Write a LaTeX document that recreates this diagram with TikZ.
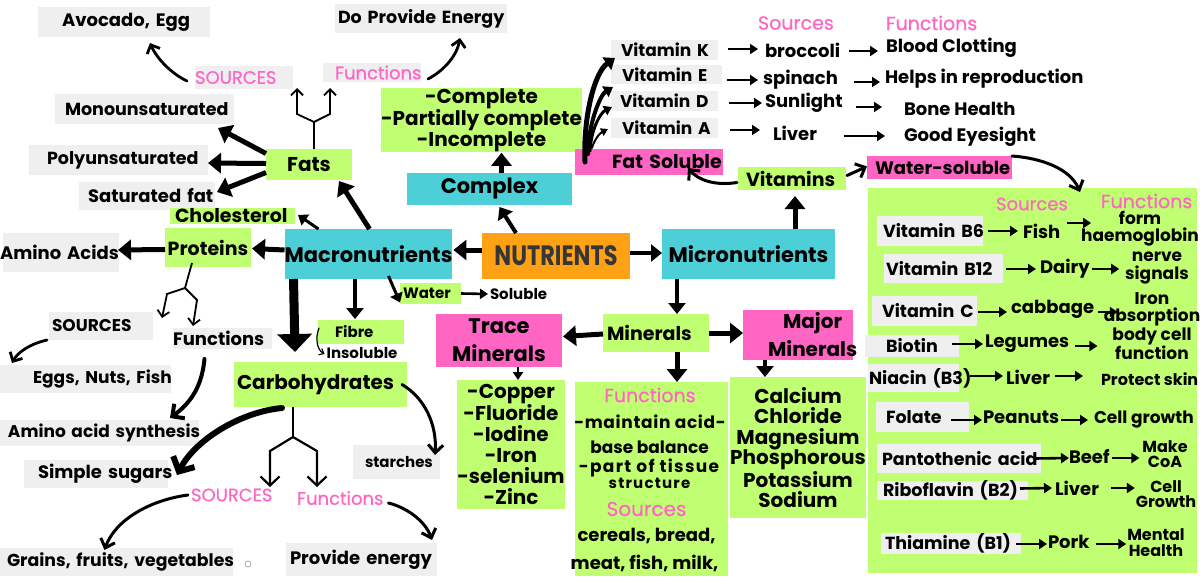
\documentclass[tikz,border=0pt]{standalone}
\usepackage{fontspec}
\usepackage{graphicx}
\setmainfont{Poppins}
\usetikzlibrary{arrows.meta,calc}
\definecolor{lgreen}{HTML}{C1FF72}
\definecolor{pinkc}{HTML}{FF66C4}
\definecolor{cyanc}{HTML}{4DCFD8}
\definecolor{orangec}{HTML}{FFA114}
\definecolor{grayc}{HTML}{EFEFEF}
\definecolor{nutc}{HTML}{363636}
\newcommand\fb[1]{\fontsize{#1}{#1}\selectfont\bfseries}
\newcommand\fr[1]{\fontsize{#1}{#1}\selectfont\mdseries\addfontfeature{FakeBold=0.5}}
\newcommand\fbl[2]{\fontsize{#1}{#2}\selectfont\bfseries}
\newcommand\tx[2]{\hspace*{#1pt}\mbox{#2}}
\tikzset{
 box/.style={inner sep=0pt, outer sep=0pt},
 gbox/.style={box, fill=grayc},
 grbox/.style={box, fill=lgreen},
 cybox/.style={box, fill=cyanc},
 pkbox/.style={box, fill=pinkc},
 orbox/.style={box, fill=orangec},
 txt/.style={inner sep=0pt, outer sep=0pt},
 bx/.style 2 args={minimum width=#1pt, minimum height=#2pt},
 tl/.style 2 args={text width=#1pt, minimum height=#2pt, align=left},
 A9/.style={line width=9pt, -{Triangle[length=18pt,width=34pt]}},
 A5/.style={line width=5pt, -{Triangle[length=13pt,width=20pt]}},
 A4/.style={line width=4pt, -{Triangle[length=11pt,width=17pt]}},
 A3/.style={line width=3pt, -{Triangle[length=9pt,width=13pt]}},
 A25/.style={line width=2.6pt, -{Triangle[length=8pt,width=10pt]}},
 B6/.style={line width=6pt, line cap=round, -{Straight Barb[length=11pt,width=24pt]}},
 B4/.style={line width=4pt, line cap=round, -{Straight Barb[length=9pt,width=18pt]}},
 B3/.style={line width=3pt, line cap=round, -{Straight Barb[length=8pt,width=15pt]}},
 B2/.style={line width=2.8pt, line cap=round, -{Straight Barb[length=7pt,width=14pt]}},
 B1/.style={line width=1.2pt, line cap=round, -{Straight Barb[length=4pt,width=7pt]}},
 fork/.style={line width=1.8pt},
 forka/.style={line width=1.8pt, -{Straight Barb[length=6pt,width=12pt]}},
 forkb/.style={line width=2.2pt, -{Straight Barb[length=9pt,width=19pt]}},
 K5/.style={line width=5pt, line cap=round, -{Triangle[length=10pt,width=15pt]}},
 K4/.style={line width=4pt, line cap=round, -{Triangle[length=9pt,width=12pt]}},
 K3/.style={line width=3pt, line cap=round, -{Triangle[length=8pt,width=10pt]}},
 K2/.style={line width=2pt, line cap=round, -{Triangle[length=7pt,width=8pt]}},
}
\begin{document}
\begin{tikzpicture}[x=1pt,y=-1pt]
\useasboundingbox (0,0) rectangle (1200,576);
\fill[white] (0,0) rectangle (1200,576);

% ---------- left / fats ----------
\node[gbox, tl={172}{30}, font=\fb{18}] (avocado) at (124,22) {\tx{24}{Avocado, Egg}};
\node[gbox, tl={98}{23}, font=\fr{18}, text=pinkc] (fsources) at (244,77.5) {\tx{0}{SOURCES}};
\node[gbox, tl={179}{30}, font=\fb{17.5}] (mono) at (144.5,109) {\tx{10}{Monounsaturated}};
\node[gbox, tl={179}{30}, font=\fb{17.5}] (poly) at (118.5,160) {\tx{18}{Polyunsaturated}};
\node[gbox, tl={136}{28}, font=\fb{18}] (sat) at (147,196) {\tx{9}{Saturated fat}};
\node[grbox, bx={86}{31}, font=\fb{20}] (fats) at (309,164.5) {Fats};
\node[gbox, tl={98}{19}, font=\fr{18}, text=pinkc] (ffunc) at (372,72.5) {\tx{12}{Functions}};
\node[gbox, tl={172}{29}, font=\fb{17.5}] (energy) at (421,18.5) {\tx{3}{Do Provide Energy}};

% ---------- centre ----------
\node[grbox, bx={195}{60}, align=center, font=\fbl{20}{20}] (complete) at (481.5,120) {-Complete\\-Partially complete\\-Incomplete};
\node[cybox, bx={165}{32}, font=\fb{21}] (complex) at (489.5,189) {Complex};
\node[orbox, bx={148}{46}, font=\fb{28}, text=nutc] (nutrients) at (556,256) {\scalebox{0.8}[1]{NUTRIENTS}};
\node[cybox, bx={165}{50}, font=\fb{21}] (macro) at (368.5,254) {Macronutrients};
\node[cybox, bx={173}{50}, font=\fb{21}] (micro) at (748.5,254) {Micronutrients};
\node[grbox, tl={125}{16}, font=\fb{19}] (chol) at (232.5,216) {\tx{5}{Cholesterol}};
\node[grbox, bx={86}{39}, font=\fb{19}] (proteins) at (208,247.5) {Proteins};
\node[gbox, tl={116}{39}, font=\fb{18}] (amino) at (61,252.5) {\tx{-3}{Amino Acids}};

% ---------- proteins ----------
\node[gbox, tl={104}{28}, font=\fb{17}] (psources) at (101,326) {\tx{3}{SOURCES}};
\node[gbox, tl={99}{21}, font=\fb{18}] (pfunc) at (222.5,338.5) {\tx{0}{Functions}};
\node[gbox, tl={171}{28}, font=\fb{17}] (eggs) at (85.5,379) {\tx{33}{Eggs, Nuts, Fish}};
\node[gbox, tl={199}{26}, font=\fb{17}] (aminosyn) at (99.5,433) {\tx{8}{Amino acid synthesis}};

% ---------- carbohydrates ----------
\node[gbox, tl={144}{28}, font=\fb{18}] (sugars) at (96,474) {\tx{14}{Simple sugars}};
\node[gbox, tl={233}{28}, font=\fb{17.3}] (grains) at (116.5,562) {\tx{7}{Grains, fruits, vegetables}};
\node[circle, draw=gray!70, line width=0.8pt, inner sep=0pt, minimum size=6pt] (dot) at (248,564) {};
\node[gbox, tl={151}{33}, font=\fb{18}] (energy2) at (361.5,559.5) {\tx{4}{Provide energy}};
\node[gbox, tl={87}{34}, font=\fb{15}] (starches) at (396.5,462) {\tx{12}{starches}};
\node[grbox, tl={173}{45}, font=\fb{20}] (carbs) at (320.5,384.5) {\tx{3}{Carbohydrates}};
\node[grbox, tl={86}{24}, font=\fb{15}] (fibre) at (361,332) {\tx{17}{Fibre}};
\node[txt, font=\fb{15}] (insoluble) at (362,353) {Insoluble};
\node[grbox, tl={61}{21}, font=\fb{15}] (water) at (430.5,293.5) {\tx{3}{Water}};
\node[txt, font=\fb{15}, anchor=west] (soluble) at (490,294) {Soluble};
\node[txt, font=\fr{18}, text=pinkc, anchor=west] (csrc) at (191,495) {SOURCES};
\node[txt, font=\fr{18}, text=pinkc, anchor=west] (cfun) at (297,498) {Functions};

% ---------- minerals ----------
\node[pkbox, bx={126}{53}, align=center, font=\fbl{21}{28}] (trace) at (499,340.5) {Trace\\Minerals};
\node[grbox, tl={106}{38}, font=\fb{19}] (minerals) at (656,333) {\tx{4}{Minerals}};
\node[pkbox, tl={110}{50}, font=\fbl{20}{28}] (major) at (798,335) {\tx{40}{Major}\\\tx{25}{Minerals}};
\node[grbox, bx={106}{129}, align=center, font=\fbl{20}{21}] (tracelist) at (511,444.5) {-Copper\\-Fluoride\\-Iodine\\-Iron\\-selenium\\-Zinc};
\node[grbox, bx={130}{141}, align=center, font=\fbl{20}{20.6}] (majorlist) at (798,447.5) {Calcium\\Chloride\\Magnesium\\Phosphorous\\Potassium\\Sodium};
\node[grbox, bx={153}{194}] (mfunc) at (651.5,479) {};
\node[txt, font=\fr{19}, text=pinkc] (mf1) at (650,395) {Functions};
\node[txt, font=\fb{17}] (mf2) at (650,422) {\addfontfeature{LetterSpace=4}-maintain acid-};
\node[txt, font=\fb{17}] (mf3) at (649.5,447) {base balance};
\node[txt, font=\fb{17}] (mf4) at (649,468) {\addfontfeature{LetterSpace=8}-part of tissue};
\node[txt, font=\fb{15}] (mf5) at (649.5,483) {\addfontfeature{LetterSpace=8}structure};
\node[txt, font=\fr{20}, text=pinkc] (mf6) at (646.5,509) {Sources};
\node[txt, font=\fb{18}] (mf7) at (646.5,536) {cereals, bread,};
\node[txt, font=\fb{18}] (mf8) at (644.5,563) {meat, fish, milk,};

% ---------- vitamins ----------
\node[grbox, tl={108}{23}, font=\fb{19}] (vitamins) at (792,178.5) {\tx{8}{Vitamins}};
\node[pkbox, tl={148}{26}, font=\fb{19}] (fatsol) at (649,162) {\tx{37}{Fat Soluble}};
\node[pkbox, tl={145}{23}, font=\fb{18}] (watsol) at (939.5,167.5) {\tx{8}{Water-soluble}};
\node[gbox, tl={107}{20}, font=\fb{17}] (vitK) at (664.5,50) {\tx{10}{Vitamin K}};
\node[gbox, tl={111}{19}, font=\fb{17}] (vitE) at (666.5,74.5) {\tx{11}{Vitamin E}};
\node[gbox, tl={107}{20}, font=\fb{17}] (vitD) at (664.5,101) {\tx{9}{Vitamin D}};
\node[gbox, tl={107}{20}, font=\fb{17}] (vitA) at (664.5,128) {\tx{11}{Vitamin A}};
\node[txt, font=\fr{19}, text=pinkc, anchor=west] (vsrc) at (758,23) {Sources};
\node[txt, font=\fr{19}, text=pinkc, anchor=west] (vfun) at (886,23) {Functions};
\node[txt, font=\fb{18}, anchor=west] (broccoli) at (765,50) {broccoli};
\node[txt, font=\fb{18}, anchor=west] (spinach) at (763,80) {spinach};
\node[txt, font=\fb{18}, anchor=west] (sunlight) at (765,103) {Sunlight};
\node[txt, font=\fb{18}, anchor=west] (liverA) at (773,133) {Liver};
\node[txt, font=\fb{18}, anchor=west] (blood) at (886,48) {Blood Clotting};
\node[txt, font=\fb{18}, anchor=west] (repro) at (885,79) {Helps in reproduction};
\node[txt, font=\fb{18}, anchor=west] (bone) at (904,109) {Bone Health};
\node[txt, font=\fb{18}, anchor=west] (eyes) at (904,137) {Good Eyesight};

% ---------- water-soluble box ----------
\node[grbox, bx={329}{385}] (wbox) at (1032.5,380.5) {};
\node[txt, font=\fr{18}, text=pinkc, anchor=west] (wsrc) at (996,204) {Sources};
\node[txt, font=\fr{19}, text=pinkc, anchor=west] (wfun) at (1101,201) {Functions};
\node[gbox, tl={106}{30}, font=\fb{17.5}] (b6) at (930,231) {\tx{6}{Vitamin B6}};
\node[gbox, tl={119}{29}, font=\fb{17.5}] (b12) at (943.5,268.5) {\tx{2}{Vitamin B12}};
\node[gbox, tl={105}{30}, font=\fb{17.5}] (vc) at (924.5,311) {\tx{10}{Vitamin C}};
\node[gbox, tl={94}{22}, font=\fb{17.5}] (biotin) at (912,346) {\tx{21}{Biotin}};
\node[gbox, tl={91}{28}, font=\fb{17.5}] (niacin) at (913.5,378) {\tx{1}{Niacin (B3)}};
\node[gbox, tl={93}{30}, font=\fb{17.5}] (folate) at (922.5,417) {\tx{10}{Folate}};
\node[gbox, tl={164}{29}, font=\fb{17.5}] (panto) at (959,458.5) {\tx{5}{Pantothenic acid}};
\node[gbox, tl={151}{19}, font=\fb{17.5}] (ribo) at (952.5,490.5) {\tx{6}{Riboflavin (B2)}};
\node[gbox, tl={140}{21}, font=\fb{17.5}] (thia) at (951,543.5) {\tx{4}{Thiamine (B1)}};
\node[txt, font=\fb{18}, anchor=west] (fish) at (1023,231) {Fish};
\node[txt, font=\fb{18}, anchor=west] (dairy) at (1040,269) {Dairy};
\node[txt, font=\fb{18}, anchor=west] (cabbage) at (1011,309) {cabbage};
\node[txt, font=\fb{18}, anchor=west] (legumes) at (985,344) {Legumes};
\node[txt, font=\fb{18}, anchor=west] (liverB) at (1006,377) {Liver};
\node[txt, font=\fb{18}, anchor=west] (peanuts) at (983,417) {Peanuts};
\node[txt, font=\fb{18}, anchor=west] (beef) at (1069,457) {Beef};
\node[txt, font=\fb{18}, anchor=west] (liverC) at (1055,488) {Liver};
\node[txt, font=\fb{18}, anchor=west] (pork) at (1048,542) {Pork};
\node[txt, font=\fbl{17}{17}, align=center] (hemo) at (1140,229) {form\\haemoglobin};
\node[txt, font=\fbl{17}{18}, align=center] (nerve) at (1157,268) {nerve\\signals};
\node[txt, font=\fbl{17}{17}, align=center] (iron) at (1152,309) {Iron\\absorption};
\node[txt, font=\fbl{17}{16}, align=center] (bodycell) at (1152,344) {body cell\\function};
\node[txt, font=\fb{16}, anchor=west] (skin) at (1101,379) {Protect skin};
\node[txt, font=\fb{17}, anchor=west] (cellg) at (1094,420) {Cell growth};
\node[txt, font=\fbl{16}{15}, align=center] (coa) at (1165,454) {Make\\CoA};
\node[txt, font=\fbl{16}{15}, align=center] (cellG) at (1166,494) {Cell\\Growth};
\node[txt, font=\fbl{16}{16}, align=center] (mental) at (1156,543) {Mental\\Health};

% ================= connectors =================
% fats
\draw[A5] ($(fats.west)+(0,-11)$) -- ($(mono.south east)+(-16,4)$);
\draw[A5] ($(fats.west)+(0,-1)$) -- ($(poly.east)+(0,3)$);
\draw[A5] ($(fats.west)+(0,8)$) -- ($(sat.east)+(2,-4)$);
\coordinate (ffork) at (314,122);
\coordinate (ffl) at (297,88);
\coordinate (ffr) at (330,88);
\draw[fork] ($(fats.north)+(5,0)$) -- (ffork);
\draw[forka] (ffork) -- (297,114) -- (ffl);
\draw[forka] (ffork) -- (330,114) -- (ffr);
\draw[B2] ($(fsources.west)+(-8,3.5)$) .. controls (172,74) and (157,59) .. ($(avocado.south)+(26,6)$);
\draw[B2] ($(ffunc.east)+(7,6.5)$) .. controls (445,70) and (457,55) .. ($(energy.south)+(39,5)$);

% macronutrients
\draw[A5] ($(macro.north)+(1,0)$) -- ($(fats.south east)+(-13,1)$);
\draw[A3] ($(macro.north west)+(34,0)$) -- ($(chol.east)+(3,-1)$);
\draw[A5] ($(macro.west)+(0,-4)$) -- ($(proteins.east)+(1,1)$);
\draw[A5] ($(proteins.west)+(0,2)$) -- ($(amino.east)+(-1,-2.5)$);
\draw[A9] ($(macro.south west)+(9,0)$) -- ($(carbs.north west)+(61,-10)$);
\draw[A4] ($(macro.south)+(-13.5,0)$) -- ($(fibre.north)+(-6,-1)$);
\draw[A3] ($(macro.south east)+(-64,-3)$) -- ($(water.west)+(0,9)$);
\draw[A25] (water.east) -- ($(soluble.west)+(-2,0)$);
\draw[B1] ($(fibre.west)+(1,-4)$) .. controls (315,338) and (317,350) .. ($(insoluble.west)+(-2,1)$);

% nutrients
\draw[A5] ($(nutrients.west)+(0,-6)$) -- ($(macro.east)+(1,-4)$);
\draw[A4] ($(nutrients.east)+(0,-3)$) -- ($(micro.west)+(0,-1)$);
\draw[A4] ($(nutrients.north west)+(34,0)$) -- ($(complex.south)+(10,2)$);
\draw[A5] ($(complex.north)+(12,0)$) -- ($(complete.south)+(20,1)$);

% proteins
\coordinate (pfork) at (185,288);
\coordinate (pfl) at (162,318);
\coordinate (pfr) at (193,326);
\draw[fork] ($(proteins.south)+(-16,-4)$) -- (pfork);
\draw[forka] (pfork) -- (167,294) -- (pfl);
\draw[forka] (pfork) -- (197,300) -- (pfr);
\draw[B2] ($(psources.south west)+(-2,0)$) .. controls (30,344) and (18,352) .. ($(eggs.north west)+(12,-2)$);
\draw[B4] ($(pfunc.south)+(-18,10)$) .. controls (202,385) and (192,402) .. ($(aminosyn.north east)+(-29,-2)$);

% carbohydrates
\draw[B6] ($(carbs.south west)+(48,1)$) .. controls (240,412) and (195,440) .. ($(sugars.east)+(9,1)$);
\coordinate (cfork) at (293,437);
\coordinate (cfl) at (270,487);
\coordinate (cfr) at (317,487);
\draw[fork] ($(carbs.south west)+(59,0)$) -- (cfork);
\draw[forkb] (cfork) -- (270,451) -- (cfl);
\draw[forkb] (cfork) -- (317,451) -- (cfr);
\draw[B3] ($(csrc.west)+(-3,0)$) .. controls (150,500) and (115,520) .. ($(grains.north)+(-12,2)$);
\draw[B3] ($(cfun.east)+(5,5)$) .. controls (405,507) and (425,520) .. ($(energy2.north east)+(-5,-3)$);
\draw[B3] ($(carbs.east)+(-5,0)$) .. controls (425,398) and (437,425) .. ($(starches.north east)+(-5,10)$);

% micronutrients / minerals
\draw[A5] ($(micro.north)+(46.5,0)$) -- ($(vitamins.south)+(3,6)$);
\draw[A4] ($(micro.south)+(-71.5,0)$) -- ($(minerals.north)+(21,0)$);
\draw[A5] ($(minerals.west)+(0,1)$) -- ($(trace.east)+(1,-4)$);
\draw[A5] (minerals.east) -- ($(major.west)+(0,-2)$);
\draw[A5] ($(minerals.south)+(21,0)$) -- ($(mfunc.north)+(25.5,0)$);
\draw[A25] ($(trace.south)+(19,0)$) -- ($(tracelist.north)+(7,0)$);
\draw[A4] ($(major.south)+(-33,0)$) -- ($(majorlist.north)+(-33,0)$);

% vitamins
\draw[B3] ($(vitamins.west)+(-1,4)$) .. controls (715,186) and (698,180) .. ($(fatsol.south)+(39,-7)$);
\draw[B3] ($(vitamins.east)+(1,-3)$) -- ($(watsol.west)+(0,-1)$);
\draw[B3] (watsol.north east) .. controls (1040,158) and (1070,168) .. ($(wbox.north)+(47.5,4)$);
\draw[K5] ($(fatsol.west)+(10,0)$) .. controls (583,115) and (595,72) .. ($(vitK.west)+(4,8)$);
\draw[K4] ($(fatsol.west)+(13,-8)$) .. controls (588,125) and (600,95) .. ($(vitE.south west)+(2,3)$);
\draw[K3] ($(fatsol.west)+(15,-11)$) .. controls (591,130) and (600,113) .. ($(vitD.west)+(1,6)$);
\draw[K2] ($(fatsol.west)+(17,-14)$) .. controls (594,140) and (600,133) .. ($(vitA.west)+(-3,1)$);

\draw[A25] ($(vitK.east)+(10,-1)$) -- ($(broccoli.west)+(-7,-1)$);
\draw[A25] ($(vitE.east)+(5,5.5)$) -- ($(spinach.west)+(-5,0)$);
\draw[A25] ($(vitD.east)+(11,2)$) -- ($(sunlight.west)+(-3,0)$);
\draw[A25] ($(vitA.east)+(12,2)$) -- ($(liverA.west)+(-13,-3)$);
\draw[A25] ($(broccoli.east)+(9,1)$) -- ($(blood.west)+(-8,3)$);
\draw[A25] ($(spinach.east)+(16,2)$) -- ($(repro.west)+(-5,3)$);
\draw[A25] ($(sunlight.east)+(13,4)$) -- ($(bone.west)+(-22,-2)$);
\draw[A25] ($(liverA.east)+(27,3)$) -- ($(eyes.west)+(-19,-1)$);

% water-soluble rows
\draw[A25] ($(b6.east)+(5,0)$) -- ($(fish.west)+(-5,0)$);
\draw[A25] ($(fish.east)+(7,-8)$) -- ($(hemo.west)+(10,-6)$);
\draw[A25] ($(b12.east)+(3,0.5)$) -- ($(dairy.west)+(-4,0)$);
\draw[A25] ($(dairy.east)+(2,0)$) -- ($(nerve.west)+(-6,1)$);
\draw[A25] ($(vc.east)+(1,1)$) -- ($(cabbage.west)+(-4,3)$);
\draw[A25] ($(cabbage.east)+(4,3)$) -- ($(iron.west)+(14,3)$);
\draw[A25] ($(biotin.east)+(-7,-2)$) -- ($(legumes.west)+(-2,0)$);
\draw[A25] ($(legumes.east)+(6,2)$) -- ($(bodycell.west)+(-15,2)$);
\draw[A25] ($(niacin.east)+(11,-2)$) -- ($(liverB.west)+(-3,-1)$);
\draw[A25] ($(liverB.east)+(5,-1)$) -- ($(skin.west)+(-18,-3)$);
\draw[A25] ($(folate.east)+(-18,3)$) -- ($(peanuts.west)+(-1,3)$);
\draw[A25] ($(peanuts.east)+(2,3)$) -- ($(cellg.west)+(-6,0)$);
\draw[A25] ($(panto.east)+(-6,0)$) -- ($(beef.west)+(0,1)$);
\draw[A25] ($(beef.east)+(2,1)$) -- ($(coa.west)+(-3,4)$);
\draw[A25] ($(ribo.east)+(-8,-2)$) -- ($(liverC.west)+(-3,0)$);
\draw[A25] ($(liverC.east)+(12,0)$) -- ($(cellG.west)+(-1,-6)$);
\draw[A25] ($(thia.east)+(-5,0.5)$) -- ($(pork.west)+(-1,2)$);
\draw[A25] ($(pork.east)+(6,2)$) -- ($(mental.west)+(-1,1)$);
\end{tikzpicture}
\end{document}
